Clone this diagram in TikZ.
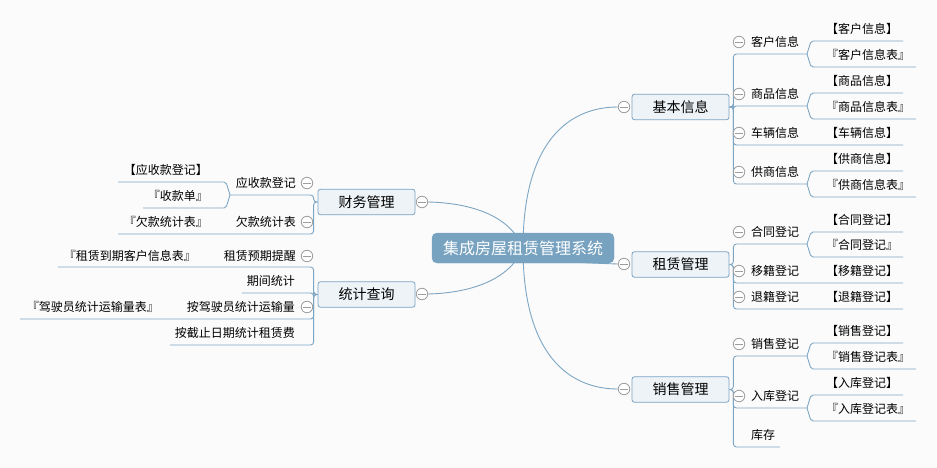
\documentclass[tikz,border=0pt]{standalone}
\usepackage{fontspec}
\setmainfont{Noto Sans CJK SC}
\definecolor{lineblue}{HTML}{7DA5C4}
\definecolor{topicfill}{HTML}{EEF3F7}
\definecolor{topicdraw}{HTML}{7AA3C3}
\definecolor{rootfill}{HTML}{77A2C0}
\definecolor{bggray}{HTML}{FBFBFB}
\definecolor{collgray}{HTML}{9E9E9E}
\pgfdeclarelayer{bg}
\pgfdeclarelayer{lines}
\pgfsetlayers{bg,lines,main}
\begin{document}
\begin{tikzpicture}[x=1pt,y=-1pt,
  conn/.style={draw=lineblue,line width=0.9pt,rounded corners=3pt},
  leafconn/.style={draw=lineblue,line width=0.9pt,rounded corners=2pt},
  curve/.style={draw=lineblue,line width=0.9pt},
  rootbox/.style={fill=rootfill,draw=rootfill,rounded corners=5pt,minimum width=182pt,minimum height=30pt,inner sep=0pt,text=white,font=\fontsize{16}{18}\selectfont},
  topic/.style={fill=topicfill,draw=topicdraw,line width=0.8pt,rounded corners=2.5pt,minimum width=97pt,minimum height=25.5pt,inner sep=0pt,font=\fontsize{14}{16}\selectfont},
  coll/.style={circle,draw=collgray,fill=white,line width=0.8pt,minimum size=11.5pt,inner sep=0pt,
    path picture={\draw[collgray,line width=0.8pt] ([xshift=-3.6pt]path picture bounding box.center) -- ([xshift=3.6pt]path picture bounding box.center);}},
  rsub/.style={anchor=west,inner sep=0pt,font=\fontsize{12}{14}\selectfont},
  lsub/.style={anchor=east,inner sep=0pt,font=\fontsize{12}{14}\selectfont},
  rleaf/.style={anchor=west,inner sep=0pt,font=\fontsize{12}{14}\selectfont},
  lleaf/.style={anchor=east,inner sep=0pt,font=\fontsize{12}{14}\selectfont}
]
\begin{pgfonlayer}{bg}
\fill[bggray] (0,0) rectangle (937,468);
\end{pgfonlayer}
\useasboundingbox (0,0) rectangle (937,468);

% root and topics
\node[rootbox] (root) at (523,248) {集成房屋租赁管理系统};
\node[topic] (jb) at (680.5,107) {基本信息};
\node[coll] (jbc) at (624,107) {};
\node[topic] (zl) at (680.5,264.5) {租赁管理};
\node[coll] (zlc) at (624,264) {};
\node[topic] (xs) at (680.5,389.5) {销售管理};
\node[coll] (xsc) at (624,389) {};
\node[topic] (cw) at (366.5,202) {财务管理};
\node[coll] (cwc) at (422,202) {};
\node[topic] (tj) at (366.5,294.5) {统计查询};
\node[coll] (tjc) at (422,294) {};

% ---- 基本信息 ----
\node[rsub] (kh) at (751,42) {客户信息}; \node[coll] (khc) at (739,42) {};
\node[rleaf] (kh1) at (826,29) {【客户信息】};
\node[rleaf] (kh2) at (826,55) {『客户信息表』};
\node[rsub] (sp) at (751,94) {商品信息}; \node[coll] (spc) at (739,94) {};
\node[rleaf] (sp1) at (826,81) {【商品信息】};
\node[rleaf] (sp2) at (826,107) {『商品信息表』};
\node[rsub] (cl) at (751,133) {车辆信息}; \node[coll] (clc) at (739,133) {};
\node[rleaf] (cl1) at (826,133) {【车辆信息】};
\node[rsub] (gs) at (751,172) {供商信息}; \node[coll] (gsc) at (739,172) {};
\node[rleaf] (gs1) at (826,159) {【供商信息】};
\node[rleaf] (gs2) at (826,185) {『供商信息表』};

\coordinate (khE) at (807,54);
\coordinate (kh1E) at (903,41);
\coordinate (kh2E) at (916,67);
\coordinate (spE) at (807,106);
\coordinate (sp1E) at (903,93);
\coordinate (sp2E) at (916,119);
\coordinate (clE) at (903,145);
\coordinate (gsE) at (807,184);
\coordinate (gs1E) at (903,171);
\coordinate (gs2E) at (916,197);

% ---- 租赁管理 ----
\node[rsub] (ht) at (751,232) {合同登记}; \node[coll] (htc) at (739,232) {};
\node[rleaf] (ht1) at (826,220) {【合同登记】};
\node[rleaf] (ht2) at (826,245) {『合同登记』};
\node[rsub] (yj) at (751,271) {移籍登记}; \node[coll] (yjc) at (739,271) {};
\node[rleaf] (yj1) at (826,271) {【移籍登记】};
\node[rsub] (tjj) at (751,297) {退籍登记}; \node[coll] (tjjc) at (739,297) {};
\node[rleaf] (tjj1) at (826,297) {【退籍登记】};

\coordinate (htE) at (807,244);
\coordinate (ht1E) at (903,232);
\coordinate (ht2E) at (903,257);
\coordinate (yjE) at (903,283);
\coordinate (tjjE) at (903,309);

% ---- 销售管理 ----
\node[rsub] (xsd) at (751,344) {销售登记}; \node[coll] (xsdc) at (739,344) {};
\node[rleaf] (xsd1) at (826,331) {【销售登记】};
\node[rleaf] (xsd2) at (826,357) {『销售登记表』};
\node[rsub] (rk) at (751,396) {入库登记}; \node[coll] (rkc) at (739,396) {};
\node[rleaf] (rk1) at (826,383) {【入库登记】};
\node[rleaf] (rk2) at (826,409) {『入库登记表』};
\node[rsub] (kc) at (751,435) {库存};

\coordinate (xsdE) at (807,356);
\coordinate (xsd1E) at (903,343);
\coordinate (xsd2E) at (916,369);
\coordinate (rkE) at (807,408);
\coordinate (rk1E) at (903,395);
\coordinate (rk2E) at (916,421);
\coordinate (kcE) at (780,447);

% ---- 财务管理 ----
\node[lsub] (ysk) at (296,183) {应收款登记}; \node[coll] (yskc) at (307,183) {};
\node[lleaf] (ysk1) at (208,170) {【应收款登记】};
\node[lleaf] (ysk2) at (208,196) {『收款单』};
\node[lsub] (qk) at (296,222) {欠款统计表}; \node[coll] (qkc) at (307,222) {};
\node[lleaf] (qk1) at (208,222) {『欠款统计表』};

\coordinate (yskE) at (230,195);
\coordinate (ysk1E) at (118,182);
\coordinate (ysk2E) at (143,208);
\coordinate (qkE) at (118,234);

% ---- 统计查询 ----
\node[lsub] (zlyq) at (296,256) {租赁预期提醒}; \node[coll] (zlyqc) at (307,256) {};
\node[lleaf] (zlyq1) at (196,256) {『租赁到期客户信息表』};
\node[lsub] (qj) at (295,281) {期间统计};
\node[lsub] (ajs) at (295,307) {按驾驶员统计运输量}; \node[coll] (ajsc) at (307,307) {};
\node[lleaf] (ajs1) at (159,307) {『驾驶员统计运输量表』};
\node[lsub] (ajz) at (295,333) {按截止日期统计租赁费};

\coordinate (zlyqE) at (58,267);
\coordinate (qjE) at (242,293);
\coordinate (ajsE) at (20,319);
\coordinate (ajzE) at (170,345);

\begin{pgfonlayer}{lines}
% main curves
\draw[curve] (root.center) .. controls (523,140) and (570,107) .. (jbc.west);
\draw[curve] (root.center) .. controls (560,262) .. (zlc.west);
\draw[curve] (root.center) .. controls (523,356) and (570,389) .. (xsc.west);
\draw[curve] (root.center) .. controls (510,215) and (470,203) .. (cwc.east);
\draw[curve] (root.center) .. controls (510,280) and (470,293) .. (tjc.east);
% 基本信息
\draw[conn] (jb.east) -- ++(4,0) |- (khE);
\draw[conn] (jb.east) -- ++(4,0) |- (spE);
\draw[conn] (jb.east) -- ++(4,0) |- (clE);
\draw[conn] (jb.east) -- ++(4,0) |- (gsE);
\draw[leafconn] (khE) -- (811,41) -- (kh1E);
\draw[leafconn] (khE) -- (811,67) -- (kh2E);
\draw[leafconn] (spE) -- (811,93) -- (sp1E);
\draw[leafconn] (spE) -- (811,119) -- (sp2E);
\draw[leafconn] (gsE) -- (811,171) -- (gs1E);
\draw[leafconn] (gsE) -- (811,197) -- (gs2E);
% 租赁管理
\draw[conn] (zl.east) -- ++(4,0) |- (htE);
\draw[conn] (zl.east) -- ++(4,0) |- (yjE);
\draw[conn] (zl.east) -- ++(4,0) |- (tjjE);
\draw[leafconn] (htE) -- (811,232) -- (ht1E);
\draw[leafconn] (htE) -- (811,257) -- (ht2E);
% 销售管理
\draw[conn] (xs.east) -- ++(4,0) |- (xsdE);
\draw[conn] (xs.east) -- ++(4,0) |- (rkE);
\draw[conn] (xs.east) -- ++(4,0) |- (kcE);
\draw[leafconn] (xsdE) -- (811,343) -- (xsd1E);
\draw[leafconn] (xsdE) -- (811,369) -- (xsd2E);
\draw[leafconn] (rkE) -- (811,395) -- (rk1E);
\draw[leafconn] (rkE) -- (811,421) -- (rk2E);
% 财务管理
\draw[conn] (cw.west) -- ++(-4,0) |- (yskE);
\draw[conn] (cw.west) -- ++(-4,0) |- (qkE);
\draw[leafconn] (yskE) -- (226,182) -- (ysk1E);
\draw[leafconn] (yskE) -- (226,208) -- (ysk2E);
% 统计查询
\draw[conn] (tj.west) -- ++(-4,0) |- (zlyqE);
\draw[conn] (tj.west) -- ++(-4,0) |- (qjE);
\draw[conn] (tj.west) -- ++(-4,0) |- (ajsE);
\draw[conn] (tj.west) -- ++(-4,0) |- (ajzE);
\end{pgfonlayer}
\end{tikzpicture}
\end{document}
